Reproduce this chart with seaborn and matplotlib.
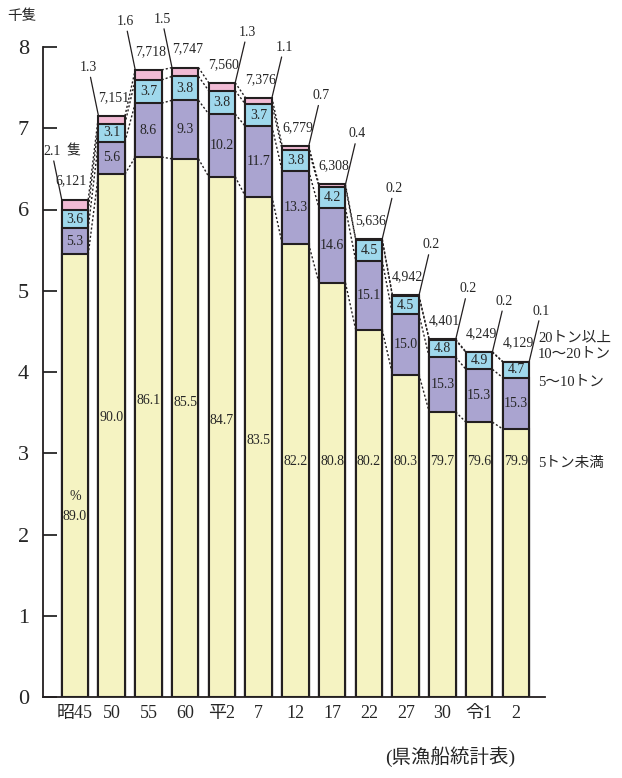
import matplotlib
matplotlib.use("Agg")
import matplotlib.pyplot as plt
import seaborn as sns
import pandas as pd

years = ["昭45", "50", "55", "60", "平2", "7", "12", "17", "22", "27", "30", "令1", "2"]
totals = [6121, 7151, 7718, 7747, 7560, 7376, 6779, 6308, 5636, 4942, 4401, 4249, 4129]
pct_lt5 = [89.0, 90.0, 86.1, 85.5, 84.7, 83.5, 82.2, 80.8, 80.2, 80.3, 79.7, 79.6, 79.9]
pct_5_10 = [5.3, 5.6, 8.6, 9.3, 10.2, 11.7, 13.3, 14.6, 15.1, 15.0, 15.3, 15.3, 15.3]
pct_10_20 = [3.6, 3.1, 3.7, 3.8, 3.8, 3.7, 3.8, 4.2, 4.5, 4.5, 4.8, 4.9, 4.7]
pct_20up = [2.1, 1.3, 1.6, 1.5, 1.3, 1.1, 0.7, 0.4, 0.2, 0.2, 0.2, 0.2, 0.1]

col_lt5 = "#f5f3c2"
col_5_10 = "#aaa4d0"
col_10_20 = "#9fd8ec"
col_20up = "#f1bbd5"
edge = "#231f20"

sns.set_style("ticks")
plt.rcParams["font.family"] = ["Liberation Serif", "Noto Sans CJK JP"]

# cumulative heights in thousand boats
tot = [t / 1000 for t in totals]
c1 = [t * p / 100 for t, p in zip(tot, pct_lt5)]
c2 = [a + t * p / 100 for a, t, p in zip(c1, tot, pct_5_10)]
c3 = [a + t * p / 100 for a, t, p in zip(c2, tot, pct_10_20)]
df = pd.DataFrame({"year": years, "c1": c1, "c2": c2, "c3": c3, "tot": tot})

fig = plt.figure(figsize=(6.22, 7.78), dpi=100)
ax = fig.add_axes([43 / 622, 1 - 697 / 778, 502 / 622, 650 / 778])

w = 0.72
for col, color in [("tot", col_20up), ("c3", col_10_20), ("c2", col_5_10), ("c1", col_lt5)]:
    sns.barplot(data=df, x="year", y=col, order=years, color=color, width=w,
                edgecolor=edge, linewidth=1.5, errorbar=None, saturation=1, ax=ax)

# dotted connectors between neighbouring bars
n = len(years)
for lev in [c1, c2, c3, tot]:
    for i in range(n - 1):
        ax.plot([i + w / 2, i + 1 - w / 2], [lev[i], lev[i + 1]], ls=(0, (1.5, 1.5)),
                color=edge, lw=1.0, zorder=1)

fs = 10
for i in range(n):
    # 5t未満
    if i == 0:
        ax.text(i, c1[i] - 3.1, "%\n89.0", ha="center", va="center", fontsize=fs, linespacing=1.7)
    else:
        y1 = max(c1[i] - 3.0, 2.9)
        ax.text(i, y1, f"{pct_lt5[i]:.1f}", ha="center", va="center", fontsize=fs)
    ax.text(i, (c1[i] + c2[i]) / 2, f"{pct_5_10[i]:.1f}", ha="center", va="center", fontsize=fs)
    ax.text(i, (c2[i] + c3[i]) / 2, f"{pct_10_20[i]:.1f}", ha="center", va="center", fontsize=fs)
    # 20t以上 with leader line
    if i < 4:
        corner = (i - w / 2, tot[i])
        off = (-10, 42)
    else:
        corner = (i + w / 2, tot[i])
        off = (12, 44)
    ax.annotate(f"{pct_20up[i]:.1f}", xy=corner, xytext=off, textcoords="offset pixels",
                ha="center", va="bottom", fontsize=fs, annotation_clip=False,
                arrowprops=dict(arrowstyle="-", lw=0.9, color=edge, shrinkA=0, shrinkB=0))
    if i == 0:
        ax.annotate("隻", xy=corner, xytext=(off[0] + 22, off[1]), textcoords="offset pixels",
                    ha="center", va="bottom", fontsize=fs, family="Noto Sans CJK JP")
    dx = -4 if i == 0 else 2
    ax.annotate(f"{totals[i]:,}", xy=(i, tot[i]), xytext=(dx, 12), textcoords="offset pixels",
                ha="center", va="bottom", fontsize=fs, annotation_clip=False)

ax.set_ylim(0, 8)
ax.set_xlim(-0.87, 12.79)
ax.set_xlabel("")
ax.set_ylabel("")
ax.set_yticks(range(0, 9))
ax.tick_params(axis="y", direction="in", length=10, width=1.3, labelsize=16, pad=10)
ax.tick_params(axis="x", length=0, labelsize=13, pad=6)
ax.set_xticks(range(n))
ax.set_xticklabels(years)
sns.despine(ax=ax)
for s in ["left", "bottom"]:
    ax.spines[s].set_linewidth(1.3)
    ax.spines[s].set_color(edge)

# series names on the right
ax.text(12.6, 4.42, "20トン以上", fontsize=10.5, va="center", ha="left", clip_on=False)
ax.text(12.6, 4.22, "10～20トン", fontsize=10.5, va="center", ha="left", clip_on=False)
ax.text(12.6, 3.88, "5～10トン", fontsize=10.5, va="center", ha="left", clip_on=False)
ax.text(12.6, 2.88, "5トン未満", fontsize=10.5, va="center", ha="left", clip_on=False)

fig.text(22 / 622, 1 - 16 / 778, "千隻", fontsize=10.5, va="center", ha="center")
fig.text(450 / 622, 1 - 757 / 778, "(県漁船統計表)", fontsize=14, va="center", ha="center")

fig.savefig("out.png", dpi=100)
